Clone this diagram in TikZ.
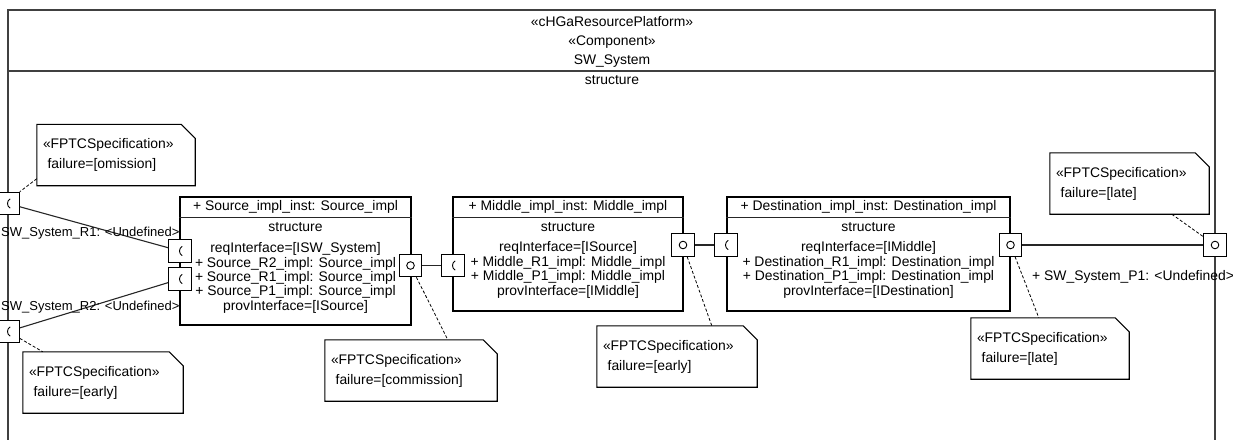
\documentclass[tikz,border=0pt]{standalone}
\usepackage{fontspec}
\setmainfont{Liberation Sans}
\usetikzlibrary{positioning}

\tikzset{
  frameline/.style={draw=black!75, line width=1.6pt},
  block/.style={draw, line width=1.1pt, fill=white, inner sep=0pt},
  port/.style={draw, line width=1.1pt, fill=white, minimum size=22.5pt, inner sep=0pt},
  reqport/.style={port, path picture={\draw[line width=.9pt] ([shift={(2.2pt,4.6pt)}]path picture bounding box.center) .. controls ([shift={(-1.4pt,2.6pt)}]path picture bounding box.center) and ([shift={(-1.4pt,-2.6pt)}]path picture bounding box.center) .. ([shift={(2.2pt,-4.6pt)}]path picture bounding box.center);}},
  provport/.style={port, path picture={\draw[line width=.9pt] (path picture bounding box.center) circle[radius=3.8pt];}},
  body/.style={align=center, inner sep=0pt},
  portlabel/.style={inner sep=0pt},
  notebox/.style={align=left, inner xsep=6pt, inner ysep=0pt, minimum height=61pt, text width=#1, font=\fontsize{13.9}{20}\selectfont},
  link/.style={line width=1.1pt, draw=black!85},
  anchorline/.style={dashed, line width=.8pt, dash pattern=on 3pt off 2pt},
}

\begin{document}
\begin{tikzpicture}[x=1pt, y=-1pt, font=\fontsize{13.9}{14.4}\selectfont]
\useasboundingbox (0,0) rectangle (1233,439);

% SW_System frame
\begin{scope}
\clip (0,0) rectangle (1233,439);
\draw[frameline] (8,445) |- (1215,10) -- (1215,445);
\end{scope}
\draw[frameline] (8,71) -- (1215,71);
\node[align=center, font=\fontsize{13.9}{19}\selectfont] (sysHead) at (612,41.5) {«cHGaResourcePlatform»\\«Component»\\SW\_System};
\node (sysStruct) at (612,80) {structure};

% parts
\node[block, minimum width=231pt, minimum height=128pt] (src) at (295.5,261) {};
\draw[link] ([yshift=-21pt]src.north west) -- ([yshift=-21pt]src.north east);
\node (srcTitle) at ([yshift=-10.5pt]src.north) {+ Source\_impl\_inst: Source\_impl};
\node (srcStruct) at ([yshift=-31pt]src.north) {structure};
\node[body] (srcBody) at ([yshift=-81.5pt]src.north) {reqInterface=[ISW\_System]\\+ Source\_R2\_impl: Source\_impl\\+ Source\_R1\_impl: Source\_impl\\+ Source\_P1\_impl: Source\_impl\\provInterface=[ISource]};

\node[block, minimum width=230pt, minimum height=114pt] (mid) at (568,254) {};
\draw[link] ([yshift=-21pt]mid.north west) -- ([yshift=-21pt]mid.north east);
\node (midTitle) at ([yshift=-10.5pt]mid.north) {+ Middle\_impl\_inst: Middle\_impl};
\node (midStruct) at ([yshift=-31pt]mid.north) {structure};
\node[body] (midBody) at ([yshift=-73.5pt]mid.north) {reqInterface=[ISource]\\+ Middle\_R1\_impl: Middle\_impl\\+ Middle\_P1\_impl: Middle\_impl\\provInterface=[IMiddle]};

\node[block, minimum width=283pt, minimum height=114pt] (dst) at (868.5,254) {};
\draw[link] ([yshift=-21pt]dst.north west) -- ([yshift=-21pt]dst.north east);
\node (dstTitle) at ([yshift=-10.5pt]dst.north) {+ Destination\_impl\_inst: Destination\_impl};
\node (dstStruct) at ([yshift=-31pt]dst.north) {structure};
\node[body] (dstBody) at ([yshift=-73.5pt]dst.north) {reqInterface=[IMiddle]\\+ Destination\_R1\_impl: Destination\_impl\\+ Destination\_P1\_impl: Destination\_impl\\provInterface=[IDestination]};

% ports
\node[reqport] (pR1) at (8,203.5) {};
\node[reqport] (pR2) at (8,331.5) {};
\node[provport] (pP1) at (1215,245) {};
\node[reqport] (srcIn1) at (180,251) {};
\node[reqport] (srcIn2) at (180,279) {};
\node[provport] (srcOut) at (410.5,265.5) {};
\node[reqport] (midIn) at (453,265.5) {};
\node[provport] (midOut) at (683,245) {};
\node[reqport] (dstIn) at (726,245) {};
\node[provport] (dstOut) at (1010.5,245) {};

\draw[link] (pR1) -- (srcIn1);
\draw[link] (pR2) -- (srcIn2);
\draw[link] (srcOut) -- (midIn);
\draw[link] (midOut) -- (dstIn);
\draw[link] (dstOut) -- (pP1);

\node[portlabel, anchor=west, font=\fontsize{13}{14}\selectfont] (lblR1) at (1,233) {SW\_System\_R1: <Undefined>};
\node[portlabel, anchor=west, font=\fontsize{13}{14}\selectfont] (lblR2) at (1,307) {SW\_System\_R2: <Undefined>};
\node[portlabel, anchor=west] (lblP1) at (1032,277) {+ SW\_System\_P1: <Undefined>};

% FPTC notes
\node[notebox=146pt] (nOmis) at (116,155) {«FPTCSpecification»\\\ failure=[omission]};
\node[notebox=148pt] (nEarlyL) at (103,382.5) {«FPTCSpecification»\\\ failure=[early]};
\node[notebox=160pt] (nComm) at (411,370.5) {«FPTCSpecification»\\\ failure=[commission]};
\node[notebox=148pt] (nEarlyM) at (677,356.5) {«FPTCSpecification»\\\ failure=[early]};
\node[notebox=146pt] (nLateD) at (1050,348.5) {«FPTCSpecification»\\\ failure=[late]};
\node[notebox=147pt] (nLateP) at (1129.5,183.5) {«FPTCSpecification»\\\ failure=[late]};
\foreach \n in {nOmis,nEarlyL,nComm,nEarlyM,nLateD,nLateP}
  \draw[line width=1.1pt] (\n.south west) -- (\n.north west) -- ([xshift=-14pt]\n.north east) -- ([yshift=-14pt]\n.north east) -- (\n.south east) -- cycle;

\draw[anchorline] ([yshift=7pt]nOmis.south west) -- (pR1.north east);
\draw[anchorline] (pR2) -- ([xshift=20pt]nEarlyL.north west);
\draw[anchorline] (srcOut) -- ([xshift=123pt]nComm.north west);
\draw[anchorline] (midOut) -- ([xshift=115pt]nEarlyM.north west);
\draw[anchorline] (dstOut) -- ([xshift=68pt]nLateD.north west);
\draw[anchorline] ([xshift=122pt]nLateP.south west) -- (pP1);
\end{tikzpicture}
\end{document}
